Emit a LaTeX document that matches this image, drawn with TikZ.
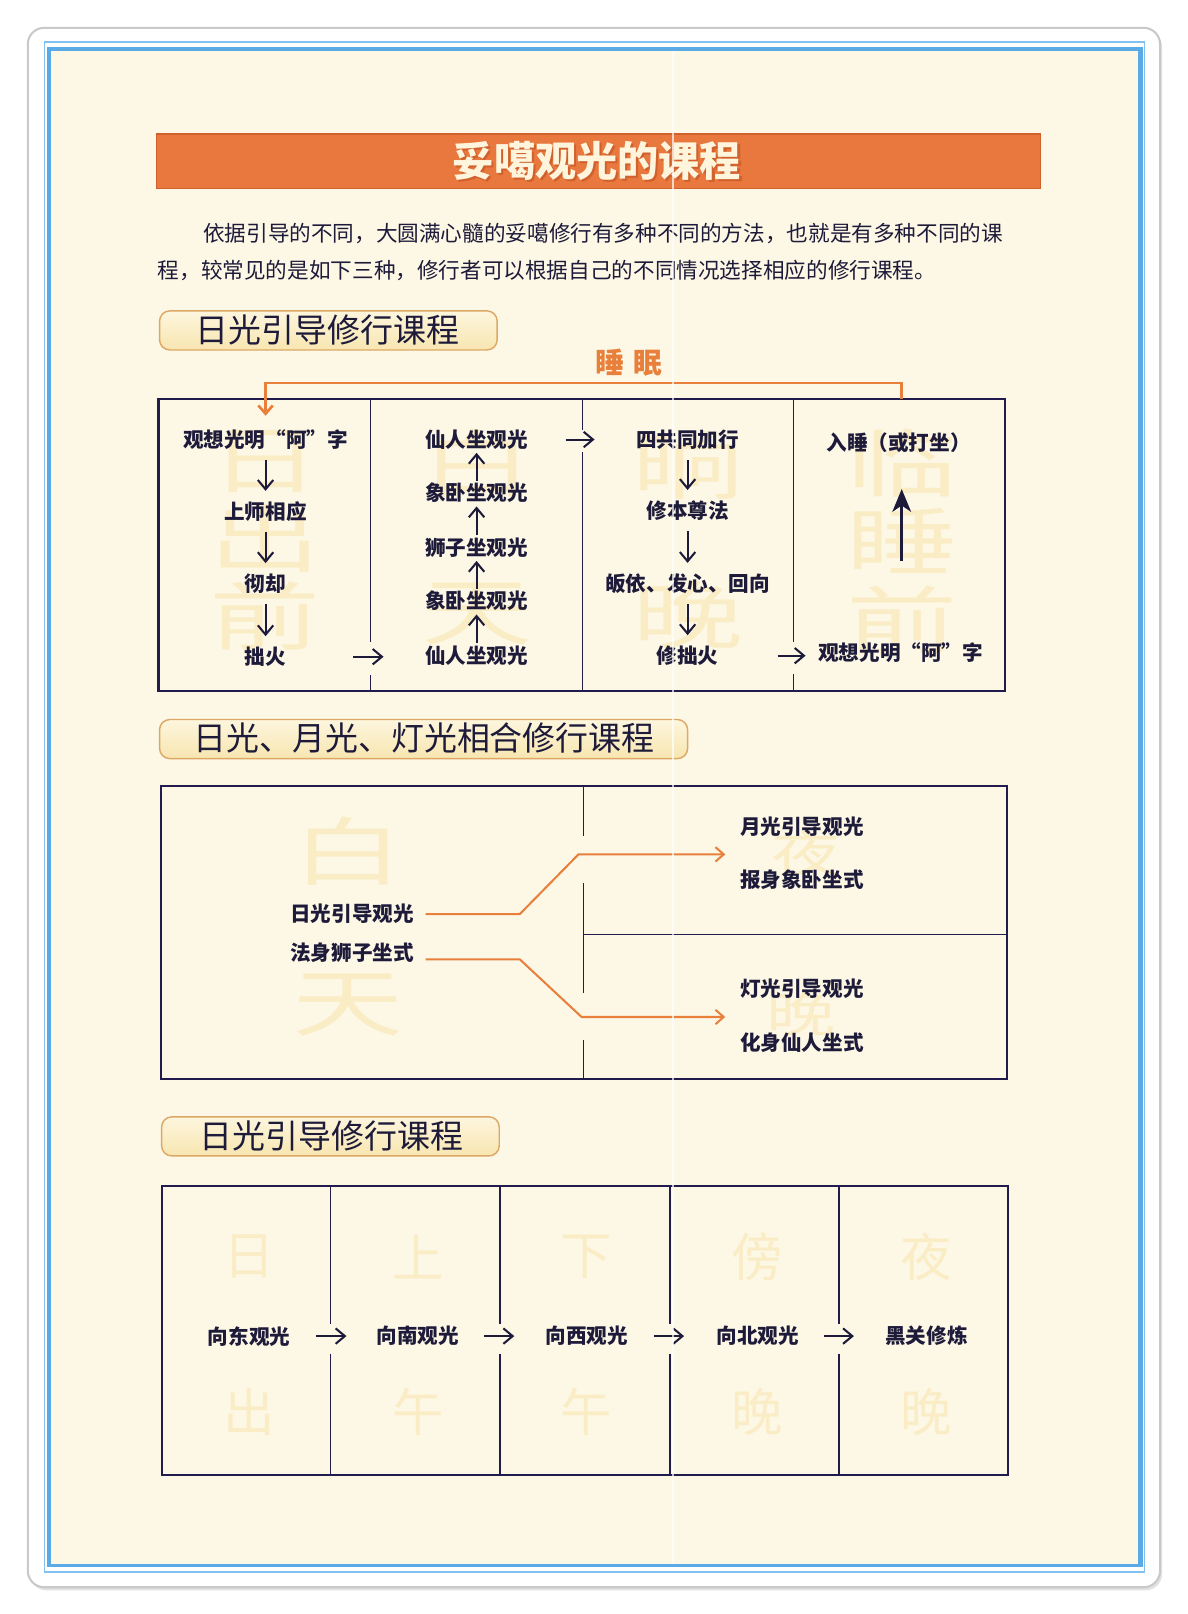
\documentclass[tikz,border=0pt]{standalone}
\usepackage{fontspec}
\usepackage{graphicx}
\setmainfont{Noto Sans CJK SC}
\newcommand\fwq[1]{{\addfontfeature{RawFeature=+fwid}#1}}
\usetikzlibrary{arrows.meta,calc}
\definecolor{ink}{HTML}{1E1B3A}
\definecolor{boxline}{HTML}{221C4E}
\definecolor{cream}{HTML}{FDF8E6}
\definecolor{orgc}{HTML}{E8803C}
\definecolor{titlebg}{HTML}{E8783E}
\definecolor{titleedge}{HTML}{D0602C}
\definecolor{wmcol}{HTML}{FAEDC6}
\definecolor{blueb}{HTML}{5AAAE6}
\definecolor{bluel}{HTML}{82C0F0}
\definecolor{hdrline}{HTML}{DDA865}
\definecolor{hdrtop}{HTML}{FDF6DE}
\definecolor{hdrbot}{HTML}{F8E6B0}
\definecolor{framegray}{HTML}{C9C9C9}
\definecolor{shadowgray}{HTML}{E2E2E2}
\definecolor{titletext}{HTML}{FFF5DC}
\begin{document}
\begin{tikzpicture}[x=0.5pt,y=-0.5pt,
  lbl/.style={font=\bfseries\fontsize{10}{12}\selectfont, text=ink, inner sep=0pt},
  body/.style={font=\fontsize{10.5}{12}\selectfont, text=ink, inner sep=0pt, anchor=west},
  hdrbox/.style={draw=hdrline, line width=0.7pt, rounded corners=5pt, top color=hdrtop, bottom color=hdrbot},
  hdrtxt/.style={font=\fontsize{16}{18}\selectfont, text=ink, inner sep=0pt},
  wmA/.style={font=\fontsize{36}{36}\selectfont, text=wmcol, inner sep=0pt},
  wmC/.style={font=\fontsize{24}{24}\selectfont, text=wmcol, inner sep=0pt},
  wmB/.style={font=\fontsize{25}{25}\selectfont, text=wmcol, inner sep=0pt},
  sarr/.style={draw=ink, line width=1pt, -{Straight Barb[length=4.5pt,width=7.5pt]}},
  barr/.style={draw=ink, line width=1.6pt, -{Stealth[length=11pt,width=9pt,inset=3pt]}},
  oline/.style={draw=orgc, line width=1.1pt, -{Straight Barb[length=4pt,width=7pt]}},
  boxl/.style={draw=boxline, line width=1pt},
  divl/.style={draw=boxline, line width=0.8pt}
]
\useasboundingbox (0,0) rectangle (1154,1568);
\fill[white] (0,0) rectangle (1154,1568);
% frame
\fill[shadowgray, rounded corners=8pt] (29,30) rectangle (1129,1545);
\draw[framegray, fill=white, line width=1pt, rounded corners=8pt] (27,27) rectangle (1127,1542);
\draw[bluel, line width=0.7pt] (43,41) rectangle (1112,1527);
\fill[blueb] (46,46) rectangle (1110,1522);
\fill[cream] (50,50) rectangle (1106,1519);

% title bar
\draw[titleedge, fill=titlebg, line width=0.8pt] (152,130) rectangle (1011,183);
\node[font=\bfseries\fontsize{20}{22}\selectfont, text=titleedge, inner sep=0pt] at (582,158) {妥噶观光的课程};
\node[font=\bfseries\fontsize{20}{22}\selectfont, text=titletext, inner sep=0pt] (title) at (580,156) {妥噶观光的课程};

% paragraph
\node[body] (p1) at (197,227) {依据引导的不同，大圆满心髓的妥噶修行有多种不同的方法，也就是有多种不同的课};
\node[body] (p2) at (153,263) {程，较常见的是如下三种，修行者可以根据自己的不同情况选择相应的修行课程。};

% ---------- section 1 ----------
\path[hdrbox] (155,302) rectangle (483,340);
\node[hdrtxt] (h1) at (318,321) {日光引导修行课程};
\node[font=\bfseries\fontsize{14}{16}\selectfont, text=orgc, inner sep=0pt] (sleep) at (611,352) {睡\hspace{4pt}眠};

% watermarks
\node[wmA] at (258,448) {\scalebox{1.5}[1]{日}};
\node[wmA] at (258,523) {\scalebox{1.5}[1]{出}};
\node[wmA] at (258,598) {\scalebox{1.5}[1]{前}};
\node[wmA] at (463,450) {\scalebox{1.5}[1]{白}};
\node[wmA] at (463,597) {\scalebox{1.5}[1]{天}};
\node[wmA] at (668,452) {\scalebox{1.5}[1]{晌}};
\node[wmA] at (668,598) {\scalebox{1.5}[1]{晚}};
\node[wmA] at (876,450) {\scalebox{1.5}[1]{临}};
\node[wmA] at (876,525) {\scalebox{1.5}[1]{睡}};
\node[wmA] at (876,602) {\scalebox{1.5}[1]{前}};

\draw[boxl] (154,388) rectangle (976,671);
\draw[divl] (360,388) -- (360,624) (360,656) -- (360,671);
\draw[divl] (566,388) -- (566,418) (566,439) -- (566,671);
\draw[divl] (771,388) -- (771,624) (771,655) -- (771,671);

\node[lbl] (a1) at (258,427) {观想光明\fwq{“}阿\fwq{”}字};
\node[lbl] (a2) at (258,497) {上师相应};
\node[lbl] (a3) at (258,567) {彻却};
\node[lbl] (a4) at (258,638) {拙火};
\node[lbl] (b1) at (463,427) {仙人坐观光};
\node[lbl] (b2) at (463,479) {象卧坐观光};
\node[lbl] (b3) at (463,532) {狮子坐观光};
\node[lbl] (b4) at (463,584) {象卧坐观光};
\node[lbl] (b5) at (463,637) {仙人坐观光};
\node[lbl] (c1) at (668,427) {四共同加行};
\node[lbl] (c2) at (668,496) {修本尊法};
\node[lbl] (c3) at (668,567) {皈依、发心、回向};
\node[lbl] (c4) at (668,637) {修拙火};
\node[lbl] (d1) at (873,430) {入睡（或打坐）};
\node[lbl] (d2) at (875,634) {观想光明\fwq{“}阿\fwq{”}字};
\coordinate (dx) at (876,0);
\coordinate (sl) at (876,388);

\draw[sarr, shorten <=5pt, shorten >=5pt] (a1) -- (a2);
\draw[sarr, shorten <=5pt, shorten >=5pt] (a2) -- (a3);
\draw[sarr, shorten <=5pt, shorten >=5pt] (a3) -- (a4);
\draw[sarr, shorten <=32.5pt, shorten >=20pt] (a4.east) -- (b5.west |- a4.east);
\draw[sarr, shorten <=1pt, shorten >=1.5pt] (b5) -- (b4);
\draw[sarr, shorten <=1pt, shorten >=1.5pt] (b4) -- (b3);
\draw[sarr, shorten <=1pt, shorten >=1.5pt] (b3) -- (b2);
\draw[sarr, shorten <=1pt, shorten >=1.5pt] (b2) -- (b1);
\draw[sarr, shorten <=18pt, shorten >=20pt] (b1) -- (c1);
\draw[sarr, shorten <=5pt, shorten >=5pt] (c1) -- (c2);
\draw[sarr, shorten <=5pt, shorten >=5pt] (c2) -- (c3);
\draw[sarr, shorten <=5pt, shorten >=5pt] (c3) -- (c4);
\draw[sarr, shorten <=28.5pt, shorten >=6pt] (c4.east) -- (d2.west |- c4.east);
\draw[barr, shorten <=39.5pt, shorten >=17.5pt] (d2.north -| dx) -- (d1.south -| dx);
\draw[oline, line width=1.3pt, shorten >=6.5pt] (sl) -- ++(0,-16) -| (a1.north);

% ---------- section 2 ----------
\path[hdrbox] (155,699) rectangle (668,737);
\node[hdrtxt] (h2) at (412,717) {日光、月光、灯光相合修行课程};

\node[wmA] at (338,827) {\scalebox{1.5}[1]{白}};
\node[wmA] at (338,976) {\scalebox{1.5}[1]{天}};
\node[wmC] at (783,829) {\scalebox{1.4}[1]{夜}};
\node[wmC] at (778,985) {\scalebox{1.4}[1]{晚}};

\draw[boxl] (156,764) rectangle (978,1048);
\draw[divl] (567,764) -- (567,812) (567,858) -- (567,965) (567,1010) -- (567,1048);
\draw[divl] (567,908) -- (978,908);

\node[lbl] (l1) at (342,888) {日光引导观光};
\node[lbl] (l2) at (342,926) {法身狮子坐式};
\node[lbl, align=center, font=\bfseries\fontsize{10}{26}\selectfont] (r1) at (779,829) {月光引导观光\\报身象卧坐式};
\node[lbl, align=center, font=\bfseries\fontsize{10}{26}\selectfont] (r2) at (779,987) {灯光引导观光\\化身仙人坐式};

\draw[oline, line width=1pt, shorten <=5.5pt, shorten >=7pt] (l1.east) -- (505,888) -- (562,830) -- (r1.west |- 0,830);
\draw[oline, line width=1pt, shorten >=7pt] ($(l2.east)+(11,6)$) -- (505,932) -- (565,988) -- (r2.west |- 0,988);

% ---------- section 3 ----------
\path[hdrbox] (157,1085) rectangle (485,1123);
\node[hdrtxt] (h3) at (322,1104) {日光引导修行课程};

\node[wmB] at (242,1221) {日};
\node[wmB] at (242,1372) {出};
\node[wmB] at (406,1221) {上};
\node[wmB] at (406,1372) {午};
\node[wmB] at (570,1221) {下};
\node[wmB] at (570,1372) {午};
\node[wmB] at (736,1221) {傍};
\node[wmB] at (736,1372) {晚};
\node[wmB] at (900,1221) {夜};
\node[wmB] at (900,1372) {晚};

\draw[boxl] (157,1152) rectangle (979,1433);
\foreach \xx in {321,486,651,815} {
  \draw[divl] (\xx,1152) -- (\xx,1286) (\xx,1315) -- (\xx,1433);
}
\node[lbl] (e1) at (242,1298) {向东观光};
\node[lbl] (e2) at (406,1298) {向南观光};
\node[lbl] (e3) at (570,1298) {向西观光};
\node[lbl] (e4) at (736,1298) {向北观光};
\node[lbl] (e5) at (900,1298) {黑关修炼};
\draw[sarr, shorten <=12.5pt, shorten >=14.5pt] (e1) -- (e2);
\draw[sarr, shorten <=12pt, shorten >=15pt] (e2) -- (e3);
\draw[sarr, shorten <=12.5pt, shorten >=15.5pt] (e3) -- (e4);
\draw[sarr, shorten <=12pt, shorten >=15pt] (e4) -- (e5);

% scan seam
\draw[white, line width=0.8pt, opacity=0.7] (654,50) -- (654,1519);
\end{tikzpicture}
\end{document}
